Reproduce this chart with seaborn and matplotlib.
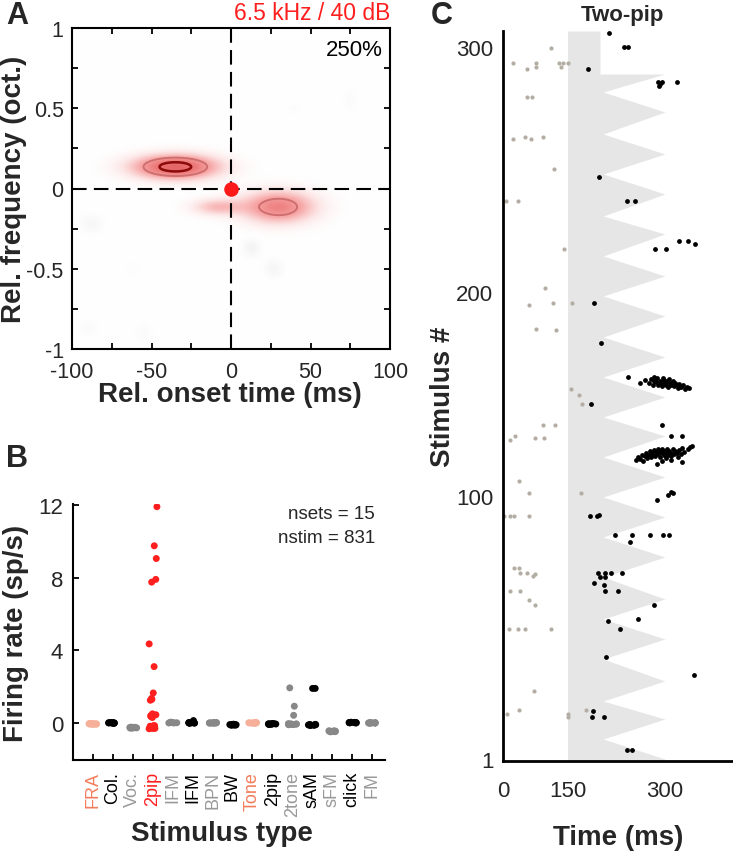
import numpy as np
import pandas as pd
import matplotlib
matplotlib.use('Agg')
import matplotlib.pyplot as plt
from matplotlib.colors import LinearSegmentedColormap, TwoSlopeNorm
from matplotlib.ticker import MultipleLocator, FormatStrFormatter
import seaborn as sns

sns.set_theme(style='white')
plt.rcParams['font.family'] = ['Liberation Sans', 'DejaVu Sans']
plt.rcParams['axes.unicode_minus'] = False

# ---- panel A: smoothed response map, one gaussian blob per entry (ms, oct)
blob_t = [-35, 30, -8, -88, 13, 27, -90, -55, 75, -62, 40]
blob_f = [0.135, -0.115, -0.115, -0.22, -0.37, -0.5, -0.87, -0.9, 0.55, -0.5, 0.5]
blob_st = [17.5, 15, 11, 5, 4, 4, 5, 4, 4, 4, 3]
blob_sf = [0.05, 0.066, 0.035, 0.04, 0.04, 0.04, 0.04, 0.05, 0.06, 0.04, 0.03]
blob_amp = [1.0, 0.7, 0.35, -0.05, -0.07, -0.06, -0.025, -0.025, -0.02, -0.015, -0.02]
best_label = '6.5 kHz / 40 dB'
scale_label = '250%'

# ---- panel B: firing rate per stimulus type
stim_labels = ['FRA', 'Col.', 'Voc.', '2pip', 'IFM', 'IFM', 'BPN', 'BW', 'Tone',
               '2pip', '2tone', 'sAM', 'sFM', 'click', 'FM']
label_colors = ['#f47c5c', 'black', '#999999', '#ff1f1f', '#999999', 'black', '#999999',
                'black', '#f47c5c', 'black', '#999999', 'black', '#999999', 'black', '#999999']
dot_colors = ['#f6b09a', 'black', '#888888', '#ff1f1f', '#888888', 'black', '#888888',
              'black', '#f6b09a', 'black', '#888888', 'black', '#888888', 'black', '#888888']
rates = [
    [-0.08, -0.05, -0.06, -0.04, -0.07, -0.05, -0.03, -0.06, -0.05, -0.04],
    [0.0, 0.02, -0.01, 0.01, 0.0, -0.02, 0.01, 0.0, 0.02, -0.01],
    [-0.26, -0.24, -0.28, -0.25, -0.27, -0.26, -0.23, -0.29, -0.25, -0.27],
    [11.9, 9.75, 9.05, 7.9, 7.75, 4.35, 3.1, 1.65, 1.35, 1.25, 1.3, 0.5, 0.4, 0.35,
     0.3, 0.45, -0.15, -0.2, -0.25, -0.3, -0.18, -0.22, -0.28, -0.32, -0.2, -0.25,
     -0.15, -0.3, -0.22, -0.27],
    [0.02, 0.0, 0.03, 0.01, 0.04, 0.02, 0.0, 0.03, 0.01, 0.02],
    [0.0, 0.02, -0.01, 0.01, 0.13, 0.0, 0.02, -0.02, 0.01, 0.0],
    [0.0, 0.02, -0.01, 0.01, 0.0, -0.02, 0.01, 0.0, 0.02, -0.01],
    [-0.1, -0.08, -0.12, -0.09, -0.11, -0.1, -0.07, -0.13, -0.1, -0.09],
    [0.0, 0.02, -0.01, 0.01, 0.0, -0.02, 0.01, 0.0, 0.02, -0.01],
    [-0.06, -0.04, -0.08, -0.05, -0.07, -0.06, -0.03, -0.09, -0.06, -0.05],
    [1.93, 0.92, 0.42, -0.07, -0.05, -0.09, -0.06, -0.08, -0.07, -0.04, -0.1, -0.06],
    [1.9, 1.9, -0.11, -0.09, -0.13, -0.1, -0.12, -0.11, -0.08, -0.14, -0.11],
    [-0.46, -0.44, -0.48, -0.45, -0.47, -0.46, -0.43, -0.49, -0.46, -0.45],
    [0.02, 0.0, 0.03, 0.01, 0.04, 0.02, 0.0, 0.03, 0.01, 0.02],
    [0.0, 0.02, -0.01, 0.01, 0.0, -0.02, 0.01, 0.0, 0.02, -0.01],
]
nsets_text = 'nsets = 15'
nstim_text = 'nstim = 831'

# ---- panel C: raster for the two-pip set (time in ms, row in display rows)
saw_rows = [0, 1, 11, 21, 30, 40, 51, 61, 71, 81, 92, 102, 112, 122, 132, 142, 152,
            162.5, 172, 182, 192, 202, 212, 222.5, 232.5, 242.5, 252.5, 263.5, 272.5,
            283.5, 293.5, 303.5, 313.5, 324.5, 334.5, 343.5, 343.5, 365]
saw_end = [300, 300, 205, 300, 205, 300, 205, 300, 205, 300, 205, 300, 205, 300, 205,
           300, 205, 300, 205, 300, 205, 300, 205, 300, 205, 300, 205, 300, 205, 300,
           205, 300, 205, 300, 205, 300, 200, 200]
stim_onset = 150

gray_ms = [125, 66, 102, 88, 101, 137, 143, 150, 140, 88, 95, 66, 84, 94, 112, 129, 55, 74,
           145, 116, 91, 127, 157, 101, 132, 155, 168, 172, 112, 130, 61, 69, 99.5, 113,
           75, 91, 171, 52.5, 61, 67, 90, 68, 75, 76, 87, 96, 99.5, 61, 77, 91, 99.5, 60,
           73, 84, 125, 98, 56, 75, 178, 150, 150]
gray_row = [356.5, 349, 349, 346, 347, 349, 349, 349, 347, 332, 332, 311, 312, 311, 312,
            296, 280, 280, 256, 236.5, 228, 229, 229, 216, 215.5, 186, 183, 178.5, 168,
            168, 160.5, 162.7, 161.5, 161.5, 140, 134, 134, 122.7, 122.7, 122.7, 122.7,
            96.5, 96.5, 94, 94, 92.7, 93.5, 85, 85, 80.5, 78, 66, 66, 66, 66, 35, 23.7,
            25.3, 25.3, 23.7, 22]

black_ms = [214, 237, 243, 181, 290, 292, 296, 291, 319, 198, 242, 254, 321, 335, 347,
            285, 301, 190, 202, 243, 186, 296, 310, 326, 288, 305, 310, 313, 185, 195,
            199, 223, 250, 277, 297, 306, 247, 197, 208, 217, 234, 200, 208, 190, 206,
            208, 228, 283, 259, 212, 231, 210, 345, 189, 187, 206, 241, 249]
black_row = [364, 357, 357, 346, 339.5, 338.5, 339.5, 337.5, 339.7, 292, 280, 280, 260,
             260, 258.5, 256, 256, 229, 209, 192, 178.5, 168, 162.7, 162.7, 130.7, 133,
             134.7, 134, 122.7, 122.7, 123, 113, 113, 113, 113, 113, 109.7, 94, 94, 94,
             94, 92, 92, 89, 88, 85, 85, 78, 71, 70, 66, 52, 43, 25, 22, 22, 5.5, 5.5]

# dense bursts of spikes
burst1_ms = [262, 270, 275, 279, 281, 284, 286, 288, 290, 292, 294, 296, 298, 300, 302,
             304, 305, 308, 310, 312, 314, 316, 318, 320, 322, 325, 328, 331, 334, 337,
             283, 297, 306]
burst1_row = [189, 190.5, 189, 191, 188, 190, 189.5, 191.5, 188, 190, 189, 187.5, 190.5,
              189, 188, 190, 187, 189, 188, 190, 187.5, 189, 188, 186.5, 188.5, 187, 188,
              186, 187, 186.5, 192, 191.5, 191]
burst2_ms = [255, 259, 262, 265, 267, 269, 271, 273, 275, 277, 278, 280, 282, 283, 285,
             286, 288, 289, 290, 292, 293, 295, 296, 298, 299, 301, 302, 304, 305, 307,
             309, 310, 312, 314, 316, 318, 320, 322, 325, 327, 330, 326, 335, 338, 342,
             296, 310]
burst2_row = [150.5, 152, 151, 153, 150, 152.5, 154, 151.5, 153, 155, 152, 154, 153,
              155.5, 152.5, 154.5, 148.5, 156, 153.5, 155, 152, 154, 156, 153, 155, 151.5,
              154.5, 156, 153, 155, 152.5, 154, 156, 153.5, 155, 154, 152, 155.5, 153.5,
              156.5, 154.5, 149.5, 156, 157, 157.5, 150, 150.5]

c_ytick_pos = [1, 132.5, 234.5, 357]
c_ytick_labels = ['1', '100', '200', '300']
c_xtick_pos = [50.5, 150, 300]
c_xtick_labels = ['0', '150', '300']

W, H = 733, 853
fig = plt.figure(figsize=(W / 100, H / 100), dpi=100)


def box(l, t, r, b):
    return [l / W, 1 - b / H, (r - l) / W, (b - t) / H]


label_kw = dict(fontsize=20, fontweight='bold')

# ================= A
axA = fig.add_axes(box(72, 29, 390, 350))
tt, ff = np.meshgrid(np.linspace(-100, 100, 401), np.linspace(-1, 1, 401))
field = np.zeros_like(tt)
for t0, f0, st, sf, a in zip(blob_t, blob_f, blob_st, blob_sf, blob_amp):
    field += a * np.exp(-0.5 * (((tt - t0) / st) ** 2 + ((ff - f0) / sf) ** 2))
cmap = LinearSegmentedColormap.from_list(
    'strf', [(0.0, (0.45, 0.4, 0.45)), (0.5, (1, 1, 1)), (0.58, (0.99, 0.9, 0.9)),
             (0.72, (0.97, 0.66, 0.66)), (0.88, (0.93, 0.48, 0.48)),
             (1.0, (0.9, 0.4, 0.4))])
axA.imshow(field, extent=[-100, 100, -1, 1], origin='lower', aspect='auto', cmap=cmap,
           norm=TwoSlopeNorm(0, -1, 1), interpolation='bilinear')
axA.contour(tt, ff, field, levels=[0.52], colors=['#cf6e6e'], linewidths=1.4)
axA.contour(tt, ff, field, levels=[0.85], colors=['#8c0a0a'], linewidths=1.8)
axA.axvline(0, color='black', lw=1.5, dashes=(7, 3.5))
axA.axhline(0, color='black', lw=1.5, dashes=(7, 3.5))
axA.scatter([0], [0], s=110, color='#ff1a1a', zorder=5, linewidths=0)
axA.set_xlim(-100, 100)
axA.set_ylim(-1, 1)
axA.xaxis.set_major_locator(MultipleLocator(50))
axA.xaxis.set_minor_locator(MultipleLocator(25))
axA.yaxis.set_major_locator(MultipleLocator(0.5))
axA.yaxis.set_minor_locator(MultipleLocator(0.25))
axA.yaxis.set_major_formatter(FormatStrFormatter('%g'))
axA.tick_params(which='both', direction='in', top=True, right=True, length=4, width=1.3,
                color='black', labelsize=15.5, pad=6)
axA.tick_params(which='both', bottom=True, left=True)
axA.tick_params(axis='x', pad=8.5)
for s in axA.spines.values():
    s.set_color('black')
    s.set_linewidth(1.5)
axA.set_xlabel('Rel. onset time (ms)', **label_kw)
axA.set_ylabel('Rel. frequency (oct.)', **label_kw)
axA.xaxis.set_label_coords(0.497, -0.1)
axA.yaxis.set_label_coords(-0.142, 0.5)
axA.text(1.0, 1.028, best_label, transform=axA.transAxes, ha='right', va='baseline',
         color='#ff1f1f', fontsize=16.5)
axA.text(0.978, 0.916, scale_label, transform=axA.transAxes, ha='right', va='baseline',
         color='black', fontsize=16)

# ================= B
axB = fig.add_axes(box(73, 505, 385, 761))
keys = [f's{i}' for i in range(len(stim_labels))]
df = pd.DataFrame([(k, v) for k, vals in zip(keys, rates) for v in vals],
                  columns=['stim', 'rate'])
np.random.seed(3)
sns.stripplot(data=df, x='stim', y='rate', hue='stim', order=keys,
              palette=dict(zip(keys, dot_colors)), jitter=0.22, size=5,
              linewidth=0, legend=False, ax=axB)
axB.set_xlim(-1, 14.65)
axB.set_ylim(-2.04, 12.05)
axB.set_yticks([0, 4, 8, 12])
axB.set_xticks(range(len(stim_labels)))
axB.set_xticklabels(stim_labels, rotation=90)
for lab, c in zip(axB.get_xticklabels(), label_colors):
    lab.set_color(c)
axB.tick_params(axis='x', direction='in', length=4, width=1.3, color='black',
                labelsize=13, pad=8, bottom=True)
axB.tick_params(axis='y', direction='in', length=4, width=1.3, color='black',
                labelsize=16, pad=7, left=True)
for side in ['top', 'right']:
    axB.spines[side].set_visible(False)
for side in ['left', 'bottom']:
    axB.spines[side].set_color('black')
    axB.spines[side].set_linewidth(1.5)
axB.set_xlabel('Stimulus type', **label_kw)
axB.set_ylabel('Firing rate (sp/s)', **label_kw)
axB.xaxis.set_label_coords(0.478, -0.235)
axB.yaxis.set_label_coords(-0.14, 0.5)
axB.text(0.968, 0.945, nsets_text, transform=axB.transAxes, ha='right', va='baseline',
         fontsize=13.5)
axB.text(0.968, 0.852, nstim_text, transform=axB.transAxes, ha='right', va='baseline',
         fontsize=13.5)

# ================= C
axC = fig.add_axes(box(503, 32, 733, 762))
axC.fill_betweenx(saw_rows, stim_onset, saw_end, color='#e6e6e6', lw=0)
sns.scatterplot(x=gray_ms, y=gray_row, color='#b3ada3', s=9, linewidth=0, ax=axC)
sns.scatterplot(x=black_ms + burst1_ms + burst2_ms, y=black_row + burst1_row + burst2_row,
                color='black', s=12, linewidth=0, ax=axC)
axC.set_xlim(50.5, 405)
axC.set_ylim(0, 365)
axC.set_xticks(c_xtick_pos)
axC.set_xticklabels(c_xtick_labels)
axC.set_yticks(c_ytick_pos)
axC.set_yticklabels(c_ytick_labels)
axC.tick_params(length=0, labelsize=16)
axC.tick_params(axis='x', pad=14)
axC.tick_params(axis='y', pad=7)
for side in ['top', 'right']:
    axC.spines[side].set_visible(False)
for side in ['left', 'bottom']:
    axC.spines[side].set_color('black')
    axC.spines[side].set_linewidth(2)
axC.set_xlabel('Time (ms)', **label_kw)
axC.set_ylabel('Stimulus #', **label_kw)
axC.xaxis.set_label_coords(0.5, -0.086)
axC.yaxis.set_label_coords(-0.205, 0.5)
axC.set_title('Two-pip', fontsize=16, fontweight='bold', x=0.52, y=1.0, pad=8)

for letter, x, y in [('A', 17, 1), ('B', 17, 444), ('C', 442, 1)]:
    fig.text(x / W, 1 - y / H, letter, fontsize=22, fontweight='bold', ha='center',
             va='top')

fig.savefig('out.png', dpi=100)
